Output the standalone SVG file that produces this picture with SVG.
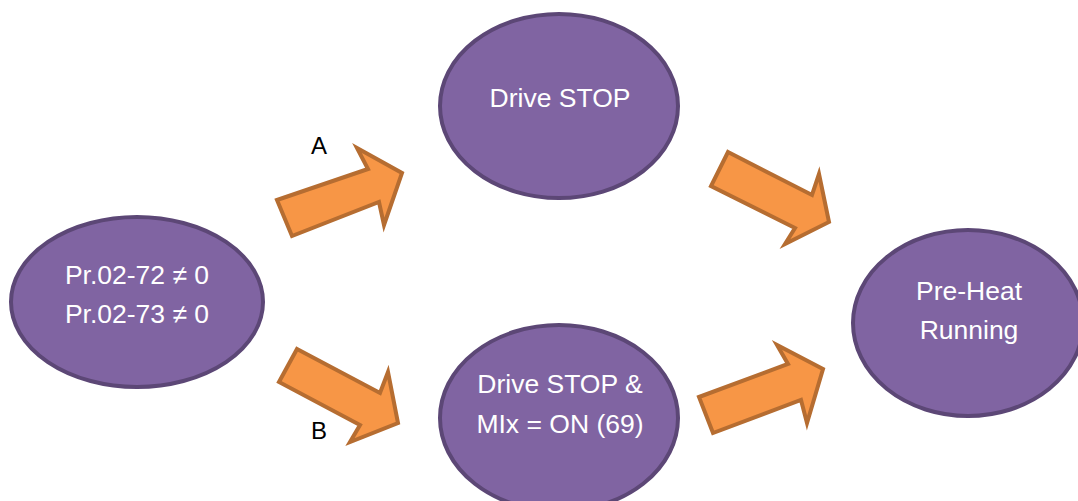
<svg xmlns="http://www.w3.org/2000/svg" width="1078" height="501" viewBox="0 0 1078 501">
<style>
.node{fill:#8064A2;stroke:#5C4776;stroke-width:4}
.nt{fill:#FFFFFF;font-family:"Liberation Sans",Arial,sans-serif;font-size:26.5px;text-anchor:middle}
.arr{fill:#F79646;stroke:#B66D31;stroke-width:4;stroke-linejoin:miter}
.lbl{fill:#000000;font-family:"Liberation Sans",Arial,sans-serif;font-size:24px;text-anchor:middle}
</style>
<rect width="1078" height="501" fill="#FFFFFF"/>
<g id="connectors">
<polygon class="arr" points="277,200 368,169 357,148 402,173 384,225 379,202 292,236"/>
<polygon class="arr" points="297,349 380,393 388,372 398,423 350,442 360,425 279,382"/>
<polygon class="arr" points="728,152 812,195 819,174 829,222 785,244 795,228 711,186"/>
<polygon class="arr" points="699,397 788,364 777,345 823,369 807,423 801,400 713,433"/>
<text class="lbl" x="319" y="154">A</text>
<text class="lbl" x="319" y="439">B</text>
</g>
<g id="node-start">
<ellipse class="node" cx="137" cy="302" rx="126" ry="85"/>
<text class="nt" x="137" y="284">Pr.02-72 ≠ 0</text>
<text class="nt" x="137" y="323">Pr.02-73 ≠ 0</text>
</g>
<g id="node-drive-stop">
<ellipse class="node" cx="559" cy="106" rx="119" ry="92"/>
<text class="nt" x="560" y="107">Drive STOP</text>
</g>
<g id="node-drive-stop-mi">
<ellipse class="node" cx="559" cy="418" rx="119" ry="93"/>
<text class="nt" x="560" y="393">Drive STOP &amp;</text>
<text class="nt" x="560" y="433">MIx = ON (69)</text>
</g>
<g id="node-preheat">
<ellipse class="node" cx="968" cy="323" rx="115" ry="93"/>
<text class="nt" x="969" y="300">Pre-Heat</text>
<text class="nt" x="969" y="339">Running</text>
</g>
</svg>
